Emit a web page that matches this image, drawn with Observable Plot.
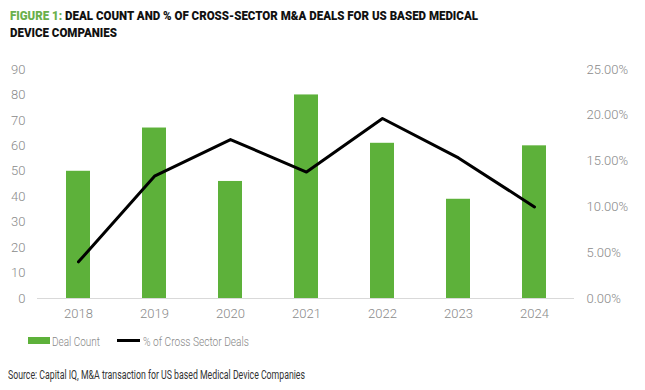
<!DOCTYPE html>
<html><head><meta charset="utf-8">
<script src="https://cdn.jsdelivr.net/npm/d3@7"></script>
<script src="https://cdn.jsdelivr.net/npm/@observablehq/plot@0.6"></script>
<style>
body{margin:0;background:#fff;font-family:Roboto,sans-serif;}
#wrap{position:relative;width:645px;height:390px;overflow:hidden;}
.fit{position:absolute;white-space:nowrap;transform-origin:left top;display:inline-block;}
#title{position:absolute;left:10px;top:7px;white-space:nowrap;transform-origin:left top;font-family:Roboto;font-weight:900;font-size:13.5px;line-height:16.5px;color:#111;}
#title .g{color:#6ab04c;}
#chart{position:absolute;left:0;top:50px;}
.lg{position:absolute;}
.lt{top:332px;font-size:13.5px;line-height:18px;font-weight:300;color:#888;}
#source{left:8px;top:367px;font-size:12.5px;line-height:15px;color:#333;}
</style></head>
<body><div id="wrap">
<div id="title"><span id="t1"><span class="g">FIGURE 1:</span> DEAL COUNT AND % OF CROSS-SECTOR M&amp;A DEALS FOR US BASED MEDICAL</span><br>DEVICE COMPANIES</div>
<div id="chart"></div>
<div class="lg" style="left:28px;top:337px;width:22px;height:7px;background:#5db13a"></div>
<span class="fit lt" data-w="48" style="left:52px">Deal Count</span>
<div class="lg" style="left:117px;top:339px;width:23px;height:3px;background:#000"></div>
<span class="fit lt" data-w="106" style="left:143px">% of Cross Sector Deals</span>
<span class="fit" id="source" data-w="297">Source: Capital IQ, M&amp;A transaction for US based Medical Device Companies</span>
</div>
<script>
const years = ["2018","2019","2020","2021","2022","2023","2024"];
const dealCount = [50, 67, 46, 80, 61, 39, 60];
const crossPct = [4.0, 13.35, 17.35, 13.8, 19.65, 15.35, 10.0];
const countTicks = [0,10,20,30,40,50,60,70,80,90];
const pctTicks = [0,5,10,15,20,25];

const countMax = 90, pctMax = 25;
const toCount = p => p * countMax / pctMax;
const data = years.map((y,i)=>({year:y, count:dealCount[i], pct:crossPct[i], pctScaled:toCount(crossPct[i])}));

const chart = Plot.plot({
  width: 645, height: 280,
  marginTop: 19, marginBottom: 32, marginLeft: 37, marginRight: 71,
  style: {fontFamily: "Roboto", fontSize: "13px", fontWeight: 300, color: "#8a8a8a", background: "transparent"},
  x: {domain: years, paddingInner: 0.69, paddingOuter: 0.345, label: null},
  y: {domain: [0, countMax], label: null},
  marks: [
    Plot.barY(data, {x: "year", y: "count", fill: "#5db13a"}),
    Plot.ruleY([0], {stroke: "#d9d9d9", strokeWidth: 1}),
    Plot.lineY(data, {x: "year", y: "pctScaled", stroke: "#000", strokeWidth: 3, strokeLinejoin: "round", strokeLinecap: "round"}),
    Plot.axisX({tickSize: 0, tickPadding: 10, label: null}),
    Plot.axisY(countTicks, {anchor: "left", tickSize: 0, tickPadding: 12, label: null}),
    Plot.axisY(pctTicks.map(toCount), {anchor: "right", tickSize: 0, tickPadding: 12, label: null,
      tickFormat: d => (d * pctMax / countMax).toFixed(2) + "%"})
  ]
});
document.getElementById("chart").appendChild(chart);

// compress text horizontally to match the reference's condensed typeface
document.querySelectorAll(".fit[data-w]").forEach(el => {
  const s = (+el.dataset.w) / el.getBoundingClientRect().width;
  el.style.transform = `scaleX(${s})`;
});
const t1w = document.getElementById("t1").getBoundingClientRect().width;
document.getElementById("title").style.transform = `scaleX(${468 / t1w})`;
</script>
</body></html>
